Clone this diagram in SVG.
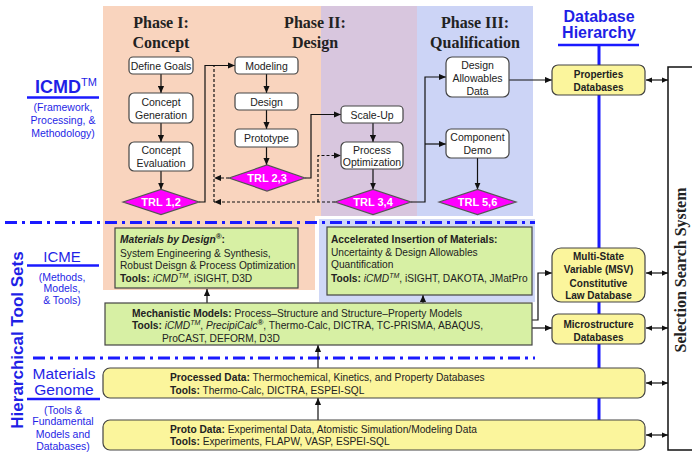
<svg xmlns="http://www.w3.org/2000/svg" width="692" height="452" viewBox="0 0 692 452">
<defs>
<style>
.bx{fill:#fff;stroke:#444;stroke-width:1.2}
.yb{fill:#fbf59c;stroke:#444;stroke-width:1.2}
.gb{fill:#d7f0a4;stroke:#444;stroke-width:1.2}
.dm{fill:#ff00ff;stroke:#555;stroke-width:1.2}
.t{font-family:"Liberation Sans",Arial,sans-serif;font-size:10.2px;fill:#222}
.tc{font-family:"Liberation Sans",Arial,sans-serif;font-size:10.5px;fill:#222;text-anchor:middle}
.tw{font-family:"Liberation Sans",Arial,sans-serif;font-size:11px;font-weight:bold;fill:#fff;text-anchor:middle}
.tb{font-family:"Liberation Sans",Arial,sans-serif;font-size:10px;font-weight:bold;fill:#222;text-anchor:middle}
.ph{font-family:"Liberation Serif","Times New Roman",serif;font-size:16px;font-weight:bold;fill:#222;text-anchor:middle}
.bl{font-family:"Liberation Sans",Arial,sans-serif;fill:#1f1fe6;text-anchor:middle}
.ln{fill:none;stroke:#111;stroke-width:1.2}
.da{stroke-dasharray:3 2}
.dd{fill:none;stroke:#1a1aff;stroke-width:3;stroke-dasharray:12 5 3 5}
.ul{stroke:#1a1aff;stroke-width:2.5}
</style>
<marker id="ah" viewBox="0 0 8 8" refX="8" refY="4" markerWidth="7" markerHeight="7" orient="auto-start-reverse" markerUnits="userSpaceOnUse"><path d="M0,0.5 L8,4 L0,7.5 z" fill="#111"/></marker>
<marker id="as" viewBox="0 0 8 8" refX="8" refY="4" markerWidth="6" markerHeight="6" orient="auto-start-reverse" markerUnits="userSpaceOnUse"><path d="M0,0.5 L8,4 L0,7.5 z" fill="#111"/></marker>
</defs>

<g id="backgrounds">
<path d="M103,6 H321 V216 H315 V290 H103 Z" fill="#f9d4be"/>
<rect x="321" y="6" width="96" height="210" fill="#d8c6de"/>
<rect x="417" y="6" width="116" height="210" fill="#ccd4f6"/>
<rect x="319" y="219" width="216" height="83" fill="#d0d8f6"/>
</g>

<g id="dividers">
<line class="dd" x1="5" y1="222.5" x2="535" y2="222.5"/>
<line class="dd" x1="33" y1="358" x2="535" y2="358"/>
<line x1="599" y1="45" x2="599" y2="420" stroke="#1a1aff" stroke-width="3"/>
</g>

<g id="labels">
<text class="ph" x="161" y="28">Phase I:</text>
<text class="ph" x="161" y="48">Concept</text>
<text class="ph" x="315" y="28">Phase II:</text>
<text class="ph" x="315" y="48">Design</text>
<text class="ph" x="475" y="28">Phase III:</text>
<text class="ph" x="475" y="48">Qualification</text>
<text class="bl" x="599" y="22" font-size="16" font-weight="bold">Database</text>
<text class="bl" x="599" y="38" font-size="16" font-weight="bold">Hierarchy</text>
<line class="ul" x1="558" y1="45" x2="639" y2="45"/>
<text class="bl" x="35" y="93" font-size="18" font-weight="bold" style="text-anchor:start">ICMD<tspan font-size="11" font-weight="normal" dy="-7">TM</tspan></text>
<line class="ul" x1="27" y1="97.5" x2="99" y2="97.5" stroke-width="3"/>
<text class="bl" x="63" y="111" font-size="10.5">(Framework,</text>
<text class="bl" x="63" y="124" font-size="10.5">Processing, &amp;</text>
<text class="bl" x="63" y="137" font-size="10.5">Methodology)</text>
<text class="bl" x="62" y="262" font-size="15">ICME</text>
<line class="ul" x1="27" y1="265.5" x2="99" y2="265.5" stroke-width="2"/>
<text class="bl" x="62" y="281" font-size="10.5">(Methods,</text>
<text class="bl" x="62" y="292" font-size="10.5">Models,</text>
<text class="bl" x="62" y="304" font-size="10.5">&amp; Tools)</text>
<text class="bl" x="64" y="379" font-size="15.5">Materials</text>
<text class="bl" x="64" y="395" font-size="15.5">Genome</text>
<line class="ul" x1="27" y1="399" x2="100" y2="399" stroke-width="2"/>
<text class="bl" x="63" y="414" font-size="10.5">(Tools &amp;</text>
<text class="bl" x="63" y="425" font-size="10.5">Fundamental</text>
<text class="bl" x="63" y="438" font-size="10.5">Models and</text>
<text class="bl" x="63" y="450" font-size="10.5">Databases)</text>
<text class="bl" transform="translate(23,340) rotate(-90)" font-size="17" font-weight="bold">Hierarchical Tool Sets</text>
</g>

<g id="connectors">
<line class="ln" x1="161" y1="74" x2="161" y2="93" marker-end="url(#ah)"/>
<line class="ln" x1="161" y1="123" x2="161" y2="142" marker-end="url(#ah)"/>
<line class="ln" x1="161" y1="171" x2="161" y2="189.5" marker-end="url(#ah)"/>
<path class="ln" d="M199,202 H205 V65.5 H235" marker-end="url(#ah)"/>
<path class="ln da" d="M214,202 V65.5"/>
<path class="ln da" d="M335,202 H214" marker-end="url(#ah)"/>
<path class="ln da" d="M229,178 H214" marker-end="url(#ah)"/>
<line class="ln" x1="266.5" y1="74" x2="266.5" y2="93" marker-end="url(#ah)"/>
<line class="ln" x1="266.5" y1="110" x2="266.5" y2="129" marker-end="url(#ah)"/>
<line class="ln" x1="266.5" y1="147" x2="266.5" y2="165" marker-end="url(#ah)"/>
<path class="ln" d="M305,178 H311 V114.5 H341" marker-end="url(#ah)"/>
<path class="ln da" d="M318,202 V155.5 H341" marker-end="url(#ah)"/>
<line class="ln" x1="373" y1="123" x2="373" y2="142" marker-end="url(#ah)"/>
<line class="ln" x1="373" y1="169" x2="373" y2="189.5" marker-end="url(#ah)"/>
<path class="ln" d="M411,202 H425 V77 H446" marker-end="url(#ah)"/>
<path class="ln" d="M425,144 H446" marker-end="url(#ah)"/>
<line class="ln" x1="477.5" y1="158" x2="477.5" y2="189.5" marker-end="url(#ah)"/>
<path class="ln" d="M509,80 H552" marker-end="url(#ah)"/>
<line class="ln" x1="207" y1="303" x2="207" y2="289" marker-end="url(#ah)"/>
<line class="ln" x1="423" y1="303" x2="423" y2="295" marker-end="url(#ah)"/>
<line class="ln" x1="318" y1="368" x2="318" y2="345" marker-end="url(#ah)"/>
<line class="ln" x1="318" y1="420" x2="318" y2="398" marker-end="url(#ah)"/>
<path class="ln" d="M532,320 H538 V273 H552" marker-end="url(#ah)"/>
<path class="ln" d="M532,328 H552" marker-end="url(#ah)"/>
<line class="ln" x1="646" y1="80" x2="668" y2="80" marker-start="url(#as)" marker-end="url(#as)"/>
<line class="ln" x1="646" y1="273" x2="668" y2="273" marker-start="url(#as)" marker-end="url(#as)"/>
<line class="ln" x1="646" y1="328" x2="668" y2="328" marker-start="url(#as)" marker-end="url(#as)"/>
<line class="ln" x1="646" y1="383" x2="668" y2="383" marker-start="url(#as)" marker-end="url(#as)"/>
<line class="ln" x1="646" y1="435" x2="668" y2="435" marker-start="url(#as)" marker-end="url(#as)"/>
</g>

<g id="define-goals"><rect class="bx" x="129" y="57" width="64" height="17" rx="4"/><text class="tc" x="161" y="69.5">Define Goals</text></g>
<g id="concept-generation"><rect class="bx" x="129" y="93" width="64" height="30" rx="5"/><text class="tc" x="161" y="106">Concept</text><text class="tc" x="161" y="119">Generation</text></g>
<g id="concept-evaluation"><rect class="bx" x="129" y="142" width="64" height="29" rx="5"/><text class="tc" x="161" y="154">Concept</text><text class="tc" x="161" y="167">Evaluation</text></g>
<g id="trl12"><polygon class="dm" points="123,202 161,189.5 199,202 161,214.5"/><text class="tw" x="161" y="206">TRL 1,2</text></g>

<g id="modeling"><rect class="bx" x="235" y="57" width="63" height="17" rx="4"/><text class="tc" x="266.5" y="69.5">Modeling</text></g>
<g id="design"><rect class="bx" x="235" y="93" width="63" height="17" rx="4"/><text class="tc" x="266.5" y="105.5">Design</text></g>
<g id="prototype"><rect class="bx" x="235" y="129" width="63" height="18" rx="4"/><text class="tc" x="266.5" y="142">Prototype</text></g>
<g id="trl23"><polygon class="dm" points="229,178 267,165 305,178 267,191"/><text class="tw" x="267" y="182">TRL 2,3</text></g>
<g id="scale-up"><rect class="bx" x="341" y="106" width="62" height="17" rx="4"/><text class="tc" x="372" y="118.5">Scale-Up</text></g>
<g id="process-optimization"><rect class="bx" x="341" y="142" width="62" height="27" rx="5"/><text class="tc" x="372" y="154">Process</text><text class="tc" x="372" y="166">Optimization</text></g>
<g id="trl34"><polygon class="dm" points="335,202 373,189.5 411,202 373,214.5"/><text class="tw" x="373" y="206">TRL 3,4</text></g>

<g id="design-allowables"><rect class="bx" x="446" y="57" width="63" height="40" rx="6"/><text class="tc" x="477.5" y="69">Design</text><text class="tc" x="477.5" y="82">Allowables</text><text class="tc" x="477.5" y="95">Data</text></g>
<g id="component-demo"><rect class="bx" x="446" y="129" width="63" height="29" rx="5"/><text class="tc" x="477.5" y="141">Component</text><text class="tc" x="477.5" y="154">Demo</text></g>
<g id="trl56"><polygon class="dm" points="439,202 477.5,189.5 516,202 477.5,214.5"/><text class="tw" x="477.5" y="206">TRL 5,6</text></g>

<g id="materials-by-design"><rect class="gb" x="115" y="228" width="183" height="60"/>
<text class="t" x="120" y="243"><tspan font-weight="bold" font-style="italic">Materials by Design</tspan><tspan font-weight="bold" font-size="8" dy="-4">®</tspan><tspan font-weight="bold" dy="4">:</tspan></text>
<text class="t" x="120" y="257">System Engineering &amp; Synthesis,</text>
<text class="t" x="120" y="269">Robust Deisgn &amp; Process Optimization</text>
<text class="t" x="120" y="282"><tspan font-weight="bold">Tools:</tspan> <tspan font-style="italic">iCMD</tspan><tspan font-style="italic" font-size="7" dy="-4">TM</tspan><tspan dy="4">, iSIGHT, D3D</tspan></text>
</g>

<g id="accelerated-insertion"><rect class="gb" x="327" y="227" width="205" height="68"/>
<text class="t" x="331" y="243" font-weight="bold">Accelerated Insertion of Materials:</text>
<text class="t" x="331" y="256">Uncertainty &amp; Design Allowables</text>
<text class="t" x="331" y="268">Quantification</text>
<text class="t" x="331" y="282"><tspan font-weight="bold">Tools:</tspan> <tspan font-style="italic">iCMD</tspan><tspan font-style="italic" font-size="7" dy="-4">TM</tspan><tspan dy="4">, iSIGHT, DAKOTA, JMatPro</tspan></text>
</g>

<g id="mechanistic-models"><rect class="gb" x="105" y="303" width="427" height="42"/>
<text class="t" x="132" y="317"><tspan font-weight="bold">Mechanistic Models:</tspan> Process–Structure and Structure–Property Models</text>
<text class="t" x="132" y="329"><tspan font-weight="bold">Tools:</tspan> <tspan font-style="italic">iCMD</tspan><tspan font-style="italic" font-size="7" dy="-4">TM</tspan><tspan dy="4">, </tspan><tspan font-style="italic">PrecipiCalc</tspan><tspan font-size="8" font-weight="bold" dy="-4">®</tspan><tspan dy="4">, Thermo-Calc, DICTRA, TC-PRISMA, ABAQUS,</tspan></text>
<text class="t" x="162" y="342">ProCAST, DEFORM, D3D</text>
</g>

<g id="processed-data"><rect class="yb" x="103" y="368" width="542" height="30" rx="7"/>
<text class="t" x="170" y="381"><tspan font-weight="bold">Processed Data:</tspan> Thermochemical, Kinetics, and Property Databases</text>
<text class="t" x="170" y="394"><tspan font-weight="bold">Tools:</tspan> Thermo-Calc, DICTRA, ESPEI-SQL</text>
</g>

<g id="proto-data"><rect class="yb" x="103" y="420" width="542" height="30" rx="7"/>
<text class="t" x="170" y="433"><tspan font-weight="bold">Proto Data:</tspan> Experimental Data, Atomistic Simulation/Modeling Data</text>
<text class="t" x="170" y="445"><tspan font-weight="bold">Tools:</tspan> Experiments, FLAPW, VASP, ESPEI-SQL</text>
</g>

<g id="properties-db"><rect class="yb" x="552" y="65" width="93" height="30" rx="6"/><text class="tb" x="598.5" y="78">Properties</text><text class="tb" x="598.5" y="91">Databases</text></g>
<g id="msv-db"><rect class="yb" x="552" y="248" width="93" height="54" rx="9"/><text class="tb" x="598.5" y="260">Multi-State</text><text class="tb" x="598.5" y="273">Variable (MSV)</text><text class="tb" x="598.5" y="287">Constitutive</text><text class="tb" x="598.5" y="299">Law Database</text></g>
<g id="microstructure-db"><rect class="yb" x="552" y="314" width="93" height="30" rx="6"/><text class="tb" x="598.5" y="328">Microstructure</text><text class="tb" x="598.5" y="341">Databases</text></g>

<g id="selection-search-system"><rect x="668" y="67" width="30" height="383" fill="#fff" stroke="#111" stroke-width="1.5"/>
<text class="ph" transform="translate(686,270) rotate(-90)">Selection Search System</text></g>
</svg>
